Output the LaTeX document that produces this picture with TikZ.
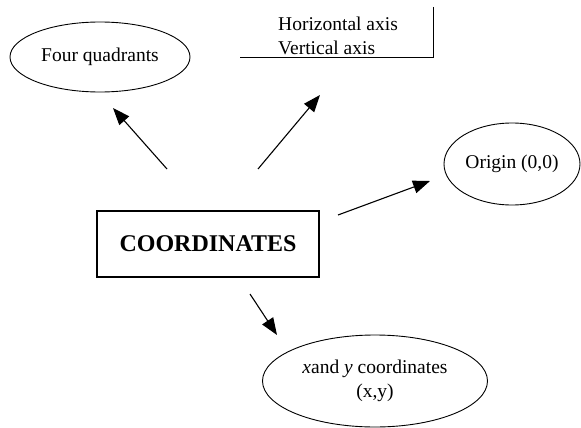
\documentclass[tikz,border=0pt]{standalone}
\usepackage{fontspec}
\setmainfont{Liberation Serif}
\usepackage{tikz}
\usetikzlibrary{shapes.geometric,arrows.meta}

\begin{document}
\begin{tikzpicture}[x=1pt,y=-1pt,bubble/.style={ellipse,draw,line width=0.9pt,inner sep=0},font=\fontsize{19.5}{24}\selectfont]
            \tikzstyle{main box}=[rectangle,draw,line width=2.6pt,minimum width=222pt,minimum height=66pt,font=\fontsize{24}{28}\selectfont\bfseries]
            \tikzstyle{link}=[line width=1.1pt,-{Triangle[length=17pt,width=13pt]}]
            \useasboundingbox (0,0) rectangle (581,428);
            % centre box
            \node[main box] (coord) at (208,244) {COORDINATES};
            % surrounding ideas
            \node[bubble,minimum width=180pt,minimum height=70pt] (quad) at (100,57) {Four quadrants};
            \node[bubble,minimum width=136pt,minimum height=82pt] (origin) at (512,164) {Origin (0,0)};
            \node[bubble,minimum width=225pt,minimum height=92pt,align=center] (xy) at (375,381) {\textit{x}and \textit{y} coordinates\\(x,y)};
            \node[anchor=north west,inner sep=0,align=left] (axes) at (278,17) {Horizontal axis\\Vertical axis};
            \coordinate (axesNE) at (433,7);
            \coordinate (axesSW) at (240,58);
            \draw[line width=1pt] (axesNE) -- (axesNE |- axesSW) -- (axesSW);
            % arrows
            \coordinate (a1) at (167,169); \coordinate (b1) at (113,108);
            \coordinate (a2) at (258,169); \coordinate (b2) at (320,95);
            \coordinate (a3) at (338,215); \coordinate (b3) at (430,181);
            \coordinate (a4) at (250,294); \coordinate (b4) at (277,335);
            \draw[link] (a1) -- (b1);
            \draw[link] (a2) -- (b2);
            \draw[link] (a3) -- (b3);
            \draw[link] (a4) -- (b4);
          \end{tikzpicture}
\end{document}
